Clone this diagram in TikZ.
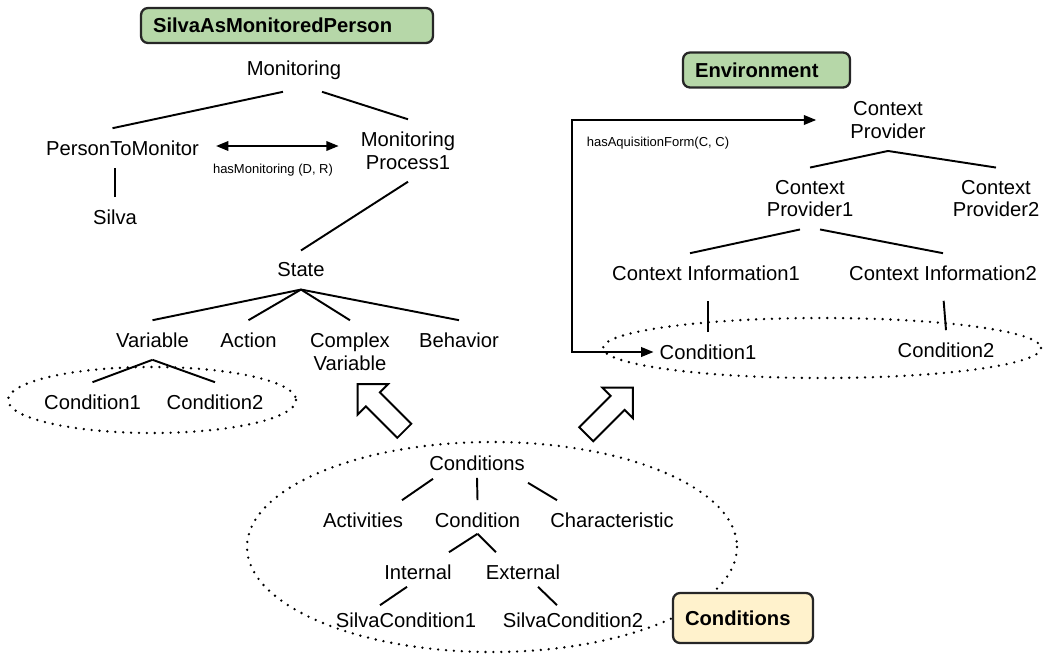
\documentclass[tikz,border=0pt]{standalone}
\usepackage{fontspec}
\setmainfont{Liberation Sans}
\usetikzlibrary{arrows.meta, calc, shapes.arrows}

\definecolor{boxgreen}{HTML}{B6D7A8}
\definecolor{boxyellow}{HTML}{FFF2CC}

\begin{document}
\begin{tikzpicture}[x=0.02cm, y=-0.02cm, line width=1.1pt, >={Triangle[length=7pt, width=5.5pt]}]
 % Define block styles
	\tikzstyle{term} = [inner xsep=3pt, inner ysep=6.5pt, align=center, font=\fontsize{11.5}{13}\selectfont]
	\tikzstyle{rellabel} = [inner sep=1pt, font=\fontsize{7.4}{9}\selectfont]
	\tikzstyle{titlebox} = [draw=black!85, line width=1.3pt, rounded corners=4pt, inner xsep=0.24cm, align=left, minimum height=0.7cm, font=\fontsize{11.5}{13}\selectfont\bfseries]
	\tikzstyle{dotring} = [line width=1.5pt, line cap=round, dash pattern=on 0pt off 4.5pt]
	\tikzstyle{bigarrow} = [single arrow, draw, line width=1.1pt, fill=white, inner sep=0.18cm, minimum height=1.32cm, single arrow head extend=0.23cm]
	\tikzstyle{rel} = [<->, line width=0.9pt]
	\useasboundingbox (0,0) rectangle (1043,656);
%%====Gruppi tratteggiati===============================================================
	\draw[dotring] (152,400) ellipse [x radius=144, y radius=33];
	\draw[dotring] (822,348) ellipse [x radius=219, y radius=30];
	\draw[dotring] (492,547) ellipse [x radius=245, y radius=105];
%%====SilvaAsMonitoredPerson===============================================================
	\node	[titlebox, fill=boxgreen, text width=5.36cm]	(silvabox)	at (287,25.5)	{SilvaAsMonitoredPerson};
	\node	[term]	(mon)	at (294,70)		{Monitoring};
	\node	[term]	(ptm)	at (122.5,148)	{PersonToMonitor};
	\node	[term]	(mproc)	at (408,150.5)	{Monitoring\\Process1};
	\node	[term]	(silva)	at (115,217)	{Silva};
	\node	[term]	(state)	at (301,270)	{State};
	\node	[term]	(var)	at (152.5,340)	{Variable};
	\node	[term]	(act)	at (248.5,340)	{Action};
	\node	[term]	(cvar)	at (350,351.5)	{Complex\\Variable};
	\node	[term]	(beh)	at (459,340)	{Behavior};
	\node	[term]	(vc1)	at (92.5,402)	{Condition1};
	\node	[term]	(vc2)	at (215,402)	{Condition2};
	\node	[rellabel]	(monlabel)	at (273,170)	{hasMonitoring (D, R)};
%%====Environment===============================================================
	\node	[titlebox, fill=boxgreen, text width=2.86cm]	(envbox)	at (766.5,70)	{Environment};
	\node	[term]	(cprov)	at (888,120)	{Context\\Provider};
	\node	[term]	(cprov1)	at (810,198.5)	{Context\\Provider1};
	\node	[term]	(cprov2)	at (996,198.5)	{Context\\Provider2};
	\node	[term]	(cinfo1)	at (706,273)	{Context Information1};
	\node	[term]	(cinfo2)	at (943,273)	{Context Information2};
	\node	[term]	(ec1)	at (708,352)	{Condition1};
	\node	[term]	(ec2)	at (946,350)	{Condition2};
	\node	[rellabel]	(aqlabel)	at (658,143)	{hasAquisitionForm(C, C)};
	\coordinate (aqbend) at (572,352);
%%====Conditions===============================================================
	\node	[term]	(conds)	at (477,463)	{Conditions};
	\node	[term]	(acts)	at (363,520)	{Activities};
	\node	[term]	(cond)	at (477.5,520)	{Condition};
	\node	[term]	(chars)	at (612,520)	{Characteristic};
	\node	[term]	(intl)	at (418,572)	{Internal};
	\node	[term]	(extl)	at (523,572)	{External};
	\node	[term]	(sc1)	at (406,620)	{SilvaCondition1};
	\node	[term]	(sc2)	at (573,620)	{SilvaCondition2};
	\node	[titlebox, fill=boxyellow, text width=2.32cm, minimum height=1cm]	(condbox)	at (743,618)	{Conditions};
	\node	[bigarrow, rotate=135]	(tostate)	at (384.5,411)	{};
	\node	[bigarrow, rotate=45]	(toenv)	at (606,414.5)	{};
%%====Archi===============================================================
	\draw ($(mon.south)+(-11,0)$) -- ($(ptm.north)+(-10,0)$);
	\draw ($(mon.south)+(28,0)$) -- (mproc.north);
	\draw (silva.north) -- (silva.north |- ptm.south);
	\draw [rel] ($(ptm.east)+(11,-2)$) -- ($(ptm.east -| mproc.west)+(-16,-2)$);
	\draw (mproc.south) -- (state.north);
	\foreach \c in {var, act, cvar, beh}
		\draw (state.south) -- (\c.north);
	\draw (var.south) -- (vc1.north);
	\draw (var.south) -- (vc2.north);
	\draw (cprov.south) -- (cprov1.north);
	\draw (cprov.south) -- (cprov2.north);
	\draw ($(cprov1.south)+(-10,0)$) -- ($(cinfo1.north)+(-16,0)$);
	\draw ($(cprov1.south)+(10,0)$) -- (cinfo2.north);
	\draw [shorten >=0.16cm] (ec1.north) -- (ec1.north |- cinfo1.south);
	\draw [shorten <=0.16cm] (cinfo2.south) -- (ec2.north);
	\draw [rel, shorten <=0.56cm] (cprov.west) -| (aqbend) -- (ec1.west);
	\draw ($(conds.south)+(-44,-4)$) -- ($(acts.north)+(39,0)$);
	\draw ($(conds.south)+(0,-5)$) -- (cond.north);
	\draw ($(conds.south)+(51,0)$) -- ($(chars.north)+(-55,0)$);
	\draw ($(cond.south)+(0,-6)$) -- ($(intl.north)+(31,0)$);
	\draw ($(cond.south)+(0,-6)$) -- ($(extl.north)+(-27,0)$);
	\draw ($(intl.south)+(-11,-5)$) -- ($(sc1.north)+(-26,5)$);
	\draw ($(extl.south)+(15,-5)$) -- ($(sc2.north)+(-16,5)$);
\end{tikzpicture}
\end{document}
